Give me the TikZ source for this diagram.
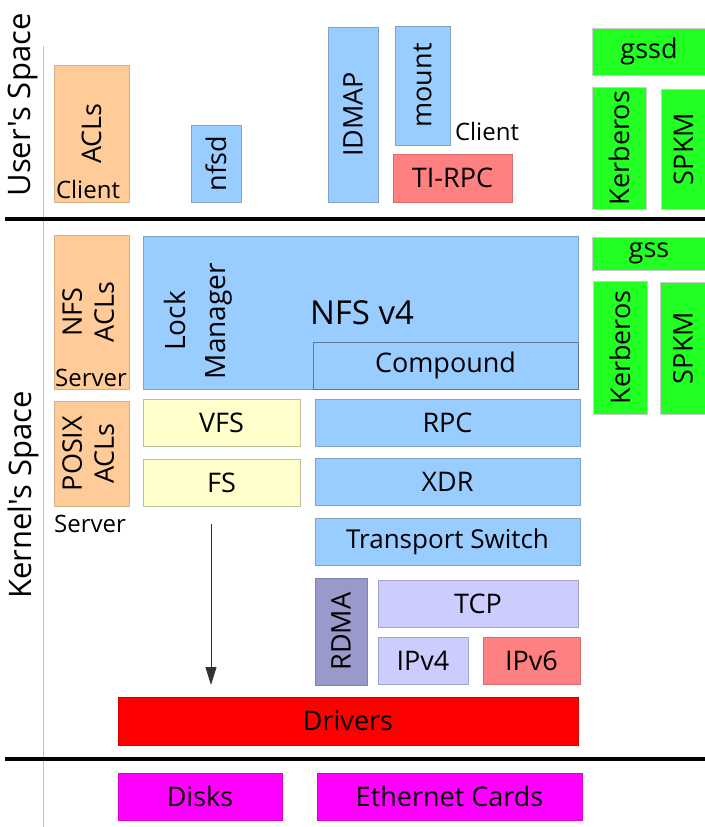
\documentclass[tikz,border=0pt]{standalone}
\usepackage{fontspec}
\setmainfont{Open Sans}[Ligatures=TeXOff]
\usetikzlibrary{arrows.meta}
\definecolor{cpeach}{HTML}{FFCC99}
\definecolor{cblue}{HTML}{99CCFF}
\definecolor{cgreen}{HTML}{22FF22}
\definecolor{cyellow}{HTML}{FFFFCC}
\definecolor{cpink}{HTML}{FF8080}
\definecolor{crdma}{HTML}{9999CC}
\definecolor{clav}{HTML}{CCCCFF}
\definecolor{cred}{HTML}{FF0000}
\definecolor{cmag}{HTML}{FF00FF}
\tikzset{
  box/.style={rectangle, inner sep=0pt, line width=0.8pt, font=\fontsize{27}{32}\selectfont, text=black},
  bluebox/.style={box, fill=cblue, draw=cblue!75!black!90},
  peachbox/.style={box, fill=cpeach, draw=cpeach!85!black},
  greenbox/.style={box, fill=cgreen, draw=black!20},
  yellowbox/.style={box, fill=cyellow, draw=cyellow!75!black},
  pinkbox/.style={box, fill=cpink, draw=cpink!85!black},
  lavbox/.style={box, fill=clav, draw=clav!80!black},
  small/.style={inner sep=0pt, font=\fontsize{24}{28}\selectfont},
  side/.style={inner sep=0pt, font=\fontsize{31}{36}\selectfont},
  sep/.style={line width=4pt, black},
}
\newcommand{\rot}[1]{\rotatebox{90}{#1}}
\newcommand{\rottwo}[2]{\rotatebox{90}{\begin{tabular}{@{}c@{}}#1\\#2\end{tabular}}}
\begin{document}
\begin{tikzpicture}[x=1pt,y=-1pt]
\useasboundingbox (0,0) rectangle (704,827);
% frame lines
\coordinate (vtop) at (43,46);
\coordinate (vbot) at (43,827);
\draw[black!25, line width=1pt] (vtop) -- (vbot);
\coordinate (s1l) at (5,219);
\coordinate (s1r) at (706,219);
\coordinate (s2l) at (5,759);
\coordinate (s2r) at (706,759);
\draw[sep] (s1l) -- (s1r);
\draw[sep] (s2l) -- (s2r);
% side labels
\node[side] (us) at (23,105) {\rot{User's Space}};
\node[side] (ks) at (23,495) {\rot{Kernel's Space}};
% user space
\node[peachbox, minimum width=75, minimum height=137] (aclc) at (91.5,133.5) {\rot{ACLs}};
\node[small, anchor=base] (aclclient) at (88,198) {Client};
\node[bluebox, minimum width=50, minimum height=77] (nfsd) at (216,163.5) {\rot{nfsd}};
\node[bluebox, minimum width=50, minimum height=175] (idmap) at (353,114.5) {\rot{IDMAP}};
\node[bluebox, minimum width=55, minimum height=119] (mount) at (422.5,85.5) {\rot{mount}};
\node[small, anchor=base] (uclient) at (487,140) {Client};
\node[pinkbox, minimum width=119, minimum height=48] (tirpc) at (452.5,178) {TI-RPC};
\node[greenbox, minimum width=114, minimum height=47] (gssd) at (649,51.5) {gssd};
\node[greenbox, minimum width=54, minimum height=122] (kerbu) at (619,148) {\rot{Kerberos}};
\node[greenbox, minimum width=45, minimum height=120] (spkmu) at (683.5,149) {\rot{SPKM}};
% kernel space
\node[peachbox, minimum width=75, minimum height=154] (nfsacl) at (91.5,312) {\rottwo{NFS}{ACLs}};
\node[small, anchor=base] (srv1) at (91,386) {Server};
\node[bluebox, minimum width=435, minimum height=153] (nfsv4) at (360.5,312.5) {};
\node[inner sep=0pt, font=\fontsize{28}{40}\selectfont] (lockm) at (197,321) {\rottwo{Lock}{Manager}};
\node[inner sep=0pt, font=\fontsize{33}{40}\selectfont] (nfsv4t) at (362,313) {NFS v4};
\node[bluebox, draw=cblue!60!black, minimum width=265, minimum height=47] (compound) at (445.5,365.5) {Compound};
\node[peachbox, minimum width=75, minimum height=105] (posix) at (91.5,453.5) {\rottwo{POSIX}{ACLs}};
\node[small, anchor=base] (srv2) at (90,532) {Server};
\node[yellowbox, minimum width=157, minimum height=47] (vfs) at (221.5,422.5) {VFS};
\node[yellowbox, minimum width=157, minimum height=47] (fs) at (221.5,482.5) {FS};
\node[bluebox, minimum width=265, minimum height=47] (rpc) at (447.5,422.5) {RPC};
\node[bluebox, minimum width=265, minimum height=47] (xdr) at (447.5,481.5) {XDR};
\node[bluebox, minimum width=265, minimum height=47, font=\fontsize{26}{32}\selectfont] (ts) at (447.5,541.5) {Transport Switch};
\node[box, fill=crdma, draw=crdma!85!black, minimum width=52, minimum height=107] (rdma) at (341,631.5) {\rot{RDMA}};
\node[lavbox, minimum width=200, minimum height=47] (tcp) at (478,603.5) {TCP};
\node[lavbox, minimum width=90, minimum height=47] (ipv4) at (423,660.5) {IPv4};
\node[pinkbox, minimum width=97, minimum height=47] (ipv6) at (531.5,660.5) {IPv6};
\node[box, fill=cred, draw=cred!85!black, minimum width=460, minimum height=48] (drivers) at (348,721) {Drivers};
\node[greenbox, minimum width=114, minimum height=33] (gss) at (649,253.5) {gss};
\node[greenbox, minimum width=54, minimum height=133] (kerbk) at (620,347.5) {\rot{Kerberos}};
\node[greenbox, minimum width=46, minimum height=132] (spkmk) at (683,348) {\rot{SPKM}};
% arrow
\coordinate (a1) at (211,524);
\coordinate (a2) at (211,685);
\draw[line width=0.8pt, black!80, -{Triangle[length=18pt,width=11pt]}] (a1) -- (a2);
% hardware
\node[box, fill=cmag, draw=cmag!85!black, minimum width=164, minimum height=47] (disks) at (200,796.5) {Disks};
\node[box, fill=cmag, draw=cmag!85!black, minimum width=265, minimum height=47] (eth) at (449.5,796.5) {Ethernet Cards};
\end{tikzpicture}
\end{document}
